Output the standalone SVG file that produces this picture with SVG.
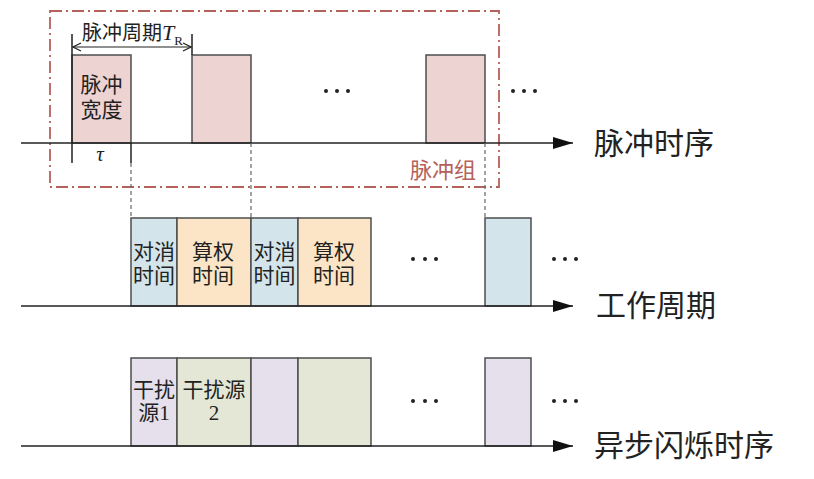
<svg xmlns="http://www.w3.org/2000/svg" width="814" height="479" viewBox="0 0 814 479">
<style>
.box{stroke:#4d4d4d;stroke-width:1.5}
.pulse{fill:#edd3d1}
.blue{fill:#d3e5ea}
.orange{fill:#fbe5c6}
.purple{fill:#e5e0ec}
.green{fill:#e4e7d6}
.axis{stroke:#222;stroke-width:1.5;fill:none}
.dash{stroke:#666;stroke-width:1.2;stroke-dasharray:4 3;fill:none}
.t{font-family:"Liberation Serif","Noto Sans CJK SC",serif;fill:#222;text-anchor:middle}
.in{font-size:21px}
.lab{font-size:30px;text-anchor:start}
.dots{fill:#222}
</style>
<defs>
<marker id="arr" markerWidth="20" markerHeight="12" refX="20" refY="6" orient="auto" markerUnits="userSpaceOnUse">
<path d="M0,0 L20,6 L0,12 z" fill="#111"/>
</marker>
<marker id="open" markerWidth="10" markerHeight="10" refX="9" refY="5" orient="auto-start-reverse" markerUnits="userSpaceOnUse">
<path d="M1,1 L9,5 L1,9" fill="none" stroke="#222" stroke-width="1.2"/>
</marker>
</defs>

<g id="group-box">
<rect x="50" y="11" width="449" height="176" fill="none" stroke="#b5615a" stroke-width="1.8" stroke-dasharray="12 4 2 4"/>
<text class="t" x="443" y="178" font-size="22" style="fill:#b5615a">脉冲组</text>
</g>

<g id="pulse1"><rect class="box pulse" x="72" y="55" width="59" height="88"/>
<text class="t in"><tspan x="101.5" y="92">脉冲</tspan><tspan x="101.5" y="117">宽度</tspan></text></g>
<g id="pulse2"><rect class="box pulse" x="192" y="55" width="59" height="88"/></g>
<g id="pulse3"><rect class="box pulse" x="426" y="55" width="59" height="88"/></g>

<g id="work1"><rect class="box blue" x="131" y="218" width="46" height="88"/>
<text class="t in"><tspan x="154" y="259">对消</tspan><tspan x="154" y="283">时间</tspan></text></g>
<g id="work2"><rect class="box orange" x="177" y="218" width="74" height="88"/>
<text class="t in"><tspan x="213" y="259">算权</tspan><tspan x="213" y="283">时间</tspan></text></g>
<g id="work3"><rect class="box blue" x="251" y="218" width="47" height="88"/>
<text class="t in"><tspan x="274.5" y="259">对消</tspan><tspan x="274.5" y="283">时间</tspan></text></g>
<g id="work4"><rect class="box orange" x="298" y="218" width="73" height="88"/>
<text class="t in"><tspan x="334" y="259">算权</tspan><tspan x="334" y="283">时间</tspan></text></g>
<g id="work5"><rect class="box blue" x="485" y="218" width="46" height="88"/></g>

<g id="jam1"><rect class="box purple" x="131" y="358" width="46" height="88"/>
<text class="t in"><tspan x="154" y="397">干扰</tspan><tspan x="154" y="420">源1</tspan></text></g>
<g id="jam2"><rect class="box green" x="177" y="358" width="74" height="88"/>
<text class="t in"><tspan x="214" y="397">干扰源</tspan><tspan x="214" y="420">2</tspan></text></g>
<g id="jam3"><rect class="box purple" x="251" y="358" width="47" height="88"/></g>
<g id="jam4"><rect class="box green" x="298" y="358" width="73" height="88"/></g>
<g id="jam5"><rect class="box purple" x="485" y="358" width="46" height="88"/></g>

<g id="connectors">
<line class="axis" x1="21" y1="143" x2="573" y2="143" marker-end="url(#arr)"/>
<line class="axis" x1="21" y1="306" x2="573" y2="306" marker-end="url(#arr)"/>
<line class="axis" x1="21" y1="446" x2="573" y2="446" marker-end="url(#arr)"/>
<line class="axis" x1="72" y1="34" x2="72" y2="163"/>
<line class="axis" x1="131" y1="143" x2="131" y2="163"/>
<line class="axis" x1="192" y1="34" x2="192" y2="55"/>
<line stroke="#222" stroke-width="1.2" x1="73" y1="47" x2="191" y2="47" marker-start="url(#open)" marker-end="url(#open)"/>
<line class="dash" x1="131" y1="163" x2="131" y2="218"/>
<line class="dash" x1="251" y1="143" x2="251" y2="218"/>
<line class="dash" x1="485" y1="143" x2="485" y2="218"/>
</g>

<g id="labels">
<text class="t" x="82" y="40" font-size="20" style="text-anchor:start">脉冲周期<tspan font-style="italic" font-size="22">T</tspan><tspan font-size="13" dy="5">R</tspan></text>
<text x="100" y="161" font-family="Liberation Serif" font-style="italic" font-size="21" fill="#222" text-anchor="middle">τ</text>
<text class="t lab" x="594" y="154">脉冲时序</text>
<text class="t lab" x="596" y="316">工作周期</text>
<text class="t lab" x="594" y="456">异步闪烁时序</text>
</g>

<g id="ellipses" class="dots">
<circle cx="326" cy="91" r="2"/><circle cx="337" cy="91" r="2"/><circle cx="348" cy="91" r="2"/>
<circle cx="513" cy="91" r="2"/><circle cx="524" cy="91" r="2"/><circle cx="535" cy="91" r="2"/>
<circle cx="413" cy="259" r="2"/><circle cx="425" cy="259" r="2"/><circle cx="436" cy="259" r="2"/>
<circle cx="554" cy="259" r="2"/><circle cx="565" cy="259" r="2"/><circle cx="576" cy="259" r="2"/>
<circle cx="413" cy="401" r="2"/><circle cx="425" cy="401" r="2"/><circle cx="436" cy="401" r="2"/>
<circle cx="554" cy="401" r="2"/><circle cx="565" cy="401" r="2"/><circle cx="576" cy="401" r="2"/>
</g>
</svg>
